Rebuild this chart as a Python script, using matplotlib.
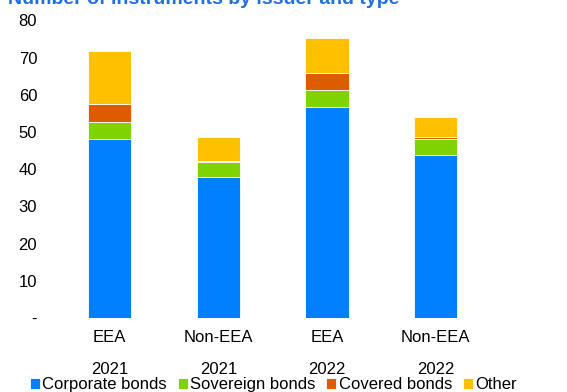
import numpy as np
import matplotlib.pyplot as plt

plt.rcParams['font.family'] = ['Liberation Sans', 'DejaVu Sans']

# datos
grupos = ['EEA\n\n2021', 'Non-EEA\n\n2021', 'EEA\n\n2022', 'Non-EEA\n\n2022']
corporate = [48.1, 37.8, 56.6, 43.8]
sovereign = [4.6, 4.1, 4.6, 4.2]
covered = [4.9, 0.4, 4.7, 0.6]
other = [14.2, 6.3, 9.4, 5.5]

series = [corporate, sovereign, covered, other]
nombres = ['Corporate bonds', 'Sovereign bonds', 'Covered bonds', 'Other']
colores = ['#0080FF', '#7FD300', '#DD5C00', '#FFC000']

fig = plt.figure(figsize=(5.67, 3.92), dpi=100)
ax = fig.add_axes([0.0975, 0.189, 0.7665, 0.759])

x = np.arange(len(grupos))
base = np.zeros(len(grupos))
for vals, nom, col in zip(series, nombres, colores):
    ax.bar(x, vals, 0.4, bottom=base, color=col, label=nom,
           edgecolor='white', linewidth=0.6)
    base = base + np.array(vals)

ax.set_xlim(-0.5, 3.5)
ax.set_ylim(0, 80)
ax.set_yticks(range(0, 81, 10))
ax.set_yticklabels(['-'] + [str(v) for v in range(10, 81, 10)])
ax.set_xticks(x)
ax.set_xticklabels(grupos, linespacing=1.05)
ax.tick_params(length=0, labelsize=12, pad=13)
ax.tick_params(axis='x', pad=9)
for s in ax.spines.values():
    s.set_visible(False)

fig.text(0.014, 0.99, 'Number of instruments by issuer and type',
         color='#1F6FE0', fontsize=14, fontweight='bold', va='baseline')

fig.legend(loc='lower center', bbox_to_anchor=(0.482, -0.018), ncol=4,
           frameon=False, fontsize=12, handlelength=0.6, handleheight=0.6,
           handletextpad=0.15, columnspacing=0.65, borderaxespad=0)

fig.savefig('out.png', dpi=100)
